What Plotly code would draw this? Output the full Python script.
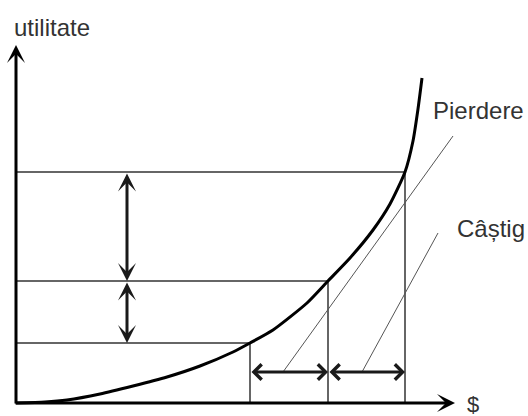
import plotly.graph_objects as go

# Utility curve (wealth -> utility)
wealth_pts = [0, 29, 51, 84, 117, 151, 184, 217, 234, 257, 291, 312, 334, 357, 374, 389, 397, 402, 406]
utility_pts = [0, 1, 3, 9, 17, 26, 37, 51, 60, 73, 100, 122, 145, 173, 199, 231, 262, 294, 325]

# Three wealth levels and their utilities
wealth_levels = [234, 312, 389]
utility_levels = [60, 122, 231]

# Double-arrow positions
v_arrow_x = 111
h_arrow_y = 31

# Leader lines (start -> end) for labels
leader_pierdere = [(437, 267), (267, 31)]
leader_castig = [(422, 170), (346, 31)]

labels = {"y": "utilitate", "x": "$", "loss": "Pierdere", "gain": "Câștig"}

axis_x_end = 439
axis_y_end = 358

FONT = "Liberation Sans, Arial, sans-serif"
TXT = "#333333"

fig = go.Figure()

# guide lines
for w, u in zip(wealth_levels, utility_levels):
    fig.add_trace(go.Scatter(x=[0, w], y=[u, u], mode="lines",
                             line=dict(color="#666666", width=2), hoverinfo="skip", showlegend=False))
    fig.add_trace(go.Scatter(x=[w, w], y=[0, u], mode="lines",
                             line=dict(color="#666666", width=2), hoverinfo="skip", showlegend=False))

# leader lines
for seg in (leader_pierdere, leader_castig):
    fig.add_trace(go.Scatter(x=[seg[0][0], seg[1][0]], y=[seg[0][1], seg[1][1]], mode="lines",
                             line=dict(color="#555555", width=1), hoverinfo="skip", showlegend=False))

# utility curve
fig.add_trace(go.Scatter(x=wealth_pts, y=utility_pts, mode="lines",
                         line=dict(color="#000000", width=3, shape="spline", smoothing=0.6),
                         hoverinfo="skip", showlegend=False))

annotations = []
# axes with arrows
annotations.append(dict(x=0, y=axis_y_end, ax=0, ay=-2, xref="x", yref="y", axref="x", ayref="y",
                        text="", showarrow=True, arrowhead=3, arrowsize=1, arrowwidth=3, arrowcolor="#000000"))
annotations.append(dict(x=axis_x_end, y=0, ax=-2, ay=0, xref="x", yref="y", axref="x", ayref="y",
                        text="", showarrow=True, arrowhead=3, arrowsize=1, arrowwidth=3, arrowcolor="#000000"))

# vertical double arrows
for u0, u1 in [(utility_levels[2], utility_levels[1]), (utility_levels[1], utility_levels[0])]:
    annotations.append(dict(x=v_arrow_x, y=u1, ax=v_arrow_x, ay=u0, xref="x", yref="y", axref="x", ayref="y",
                            text="", showarrow=True, arrowhead=3, startarrowhead=3, arrowside="end+start",
                            arrowsize=1, startarrowsize=1, arrowwidth=3, arrowcolor="#1a1a1a"))
# horizontal double arrows
for w0, w1 in [(wealth_levels[0], wealth_levels[1]), (wealth_levels[1], wealth_levels[2])]:
    annotations.append(dict(x=w1, y=h_arrow_y, ax=w0, ay=h_arrow_y, xref="x", yref="y", axref="x", ayref="y",
                            text="", showarrow=True, arrowhead=4, startarrowhead=4, arrowside="end+start",
                            arrowsize=1, startarrowsize=1, arrowwidth=3, arrowcolor="#1a1a1a"))

# text labels
annotations.append(dict(x=-4, y=376, xref="x", yref="y", text=labels["y"], showarrow=False,
                        xanchor="left", yanchor="middle", font=dict(family=FONT, size=24, color=TXT)))
annotations.append(dict(x=449, y=-1, xref="x", yref="y", text=labels["x"], showarrow=False,
                        xanchor="left", yanchor="middle", font=dict(family=FONT, size=22, color=TXT)))
annotations.append(dict(x=415, y=293, xref="x", yref="y", text=labels["loss"], showarrow=False,
                        xanchor="left", yanchor="middle", font=dict(family=FONT, size=24, color=TXT)))
annotations.append(dict(x=439, y=175, xref="x", yref="y", text=labels["gain"], showarrow=False,
                        xanchor="left", yanchor="middle", font=dict(family=FONT, size=24, color=TXT)))

fig.update_layout(
    width=528, height=416,
    margin=dict(l=0, r=0, t=0, b=0),
    paper_bgcolor="white", plot_bgcolor="white",
    xaxis=dict(range=[-16, 512], visible=False, fixedrange=True),
    yaxis=dict(range=[-13, 403], visible=False, fixedrange=True),
    annotations=annotations,
    showlegend=False,
)

fig.write_html("out.html", config={"displayModeBar": False},
               post_script="document.body.style.margin='0';document.body.style.overflow='hidden';")
